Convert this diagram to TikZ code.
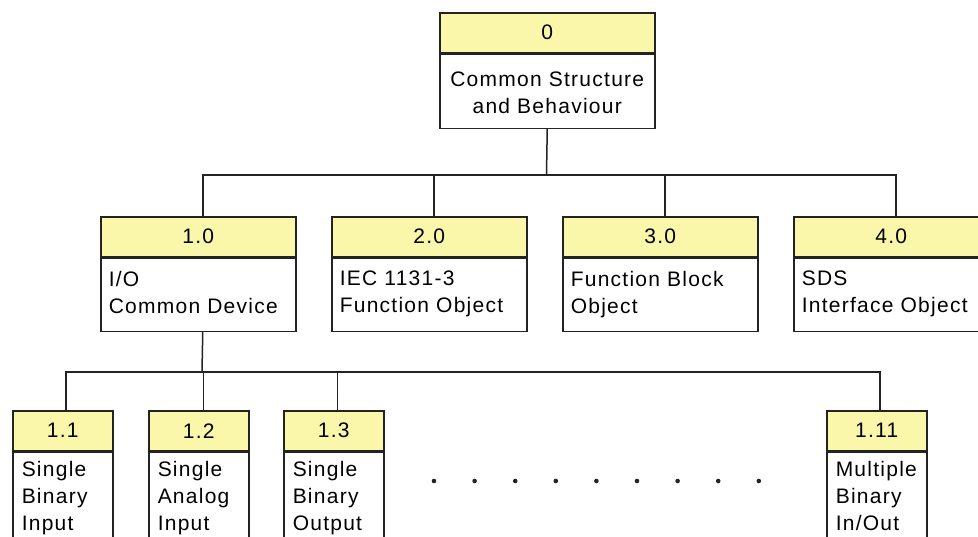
\documentclass[tikz,border=0pt]{standalone}
\usepackage{fontspec}
\setmainfont{Liberation Sans}[LetterSpace=6]
\definecolor{hdrfill}{RGB}{250,246,170}
\definecolor{edge}{RGB}{35,35,35}

\begin{document}
\begin{tikzpicture}[x=1pt, y=-1pt, line width=1.5pt,
  box/.style={draw=edge, fill=white, rectangle, inner sep=0, anchor=north west},
  hdr/.style={box, fill=hdrfill, minimum height=40, font=\fontsize{21}{27}\selectfont},
  txt/.style={anchor=north west, align=left, inner sep=0, font=\fontsize{21}{27}\selectfont},
  wire/.style={draw=edge, line width=1.5pt},
  wideb/.style={minimum width=195},
  narrowb/.style={minimum width=100}]

\useasboundingbox (0,0) rectangle (978,536);
\clip (0,0) rectangle (978,536);

% root
\node[hdr, minimum width=215] (h0) at (439,12) {0};
\node[box, minimum width=215, minimum height=74] (b0) at (h0.south west) {};
\node[txt, align=center, anchor=north] (t0) at ([yshift=-18pt]b0.north) {Common Structure\\and Behaviour};

% first level
\node[hdr, wideb] (h10) at (100,216) {1.0};
\node[box, wideb, minimum height=73] (b10) at (h10.south west) {};
\node[txt] (t10) at ([shift={(8,13)}]b10.north west) {I/O\\Common Device};

\node[hdr, wideb] (h20) at (331,216) {2.0};
\node[box, wideb, minimum height=73] (b20) at (h20.south west) {};
\node[txt] (t20) at ([shift={(8,13)}]b20.north west) {IEC 1131-3\\Function Object};

\node[hdr, wideb] (h30) at (562,216) {3.0};
\node[box, wideb, minimum height=73] (b30) at (h30.south west) {};
\node[txt] (t30) at ([shift={(8,13)}]b30.north west) {Function Block\\Object};

\node[hdr, wideb] (h40) at (793,216) {4.0};
\node[box, wideb, minimum height=73] (b40) at (h40.south west) {};
\node[txt] (t40) at ([shift={(8,13)}]b40.north west) {SDS\\Interface Object};

% second level
\node[hdr, narrowb] (h11) at (12,410) {1.1};
\node[box, narrowb, minimum height=110] (b11) at (h11.south west) {};
\node[txt] (t11) at ([shift={(9,9)}]b11.north west) {Single\\Binary\\Input};

\node[hdr, narrowb] (h12) at (148,410) {1.2};
\node[box, narrowb, minimum height=110] (b12) at (h12.south west) {};
\node[txt] (t12) at ([shift={(9,9)}]b12.north west) {Single\\Analog\\Input};

\node[hdr, narrowb] (h13) at (283,410) {1.3};
\node[box, narrowb, minimum height=110] (b13) at (h13.south west) {};
\node[txt] (t13) at ([shift={(9,9)}]b13.north west) {Single\\Binary\\Output};

\node[hdr, narrowb] (h111) at (826,410) {1.11};
\node[box, narrowb, minimum height=110] (b111) at (h111.south west) {};
\node[txt] (t111) at ([shift={(9,9)}]b111.north west) {Multiple\\Binary\\In/Out};

% connectors
\coordinate (bus1) at (546.5,175);
\draw[wire] (b0.south) -- (bus1);
\foreach \n in {h10,h20,h30,h40}
  \draw[wire] ([xshift=4.5pt]\n.north) |- (bus1);

\coordinate (bus2) at (202,372);
\draw[wire] ([xshift=4.5pt]b10.south) -- (bus2);
\draw[wire] ([xshift=3pt]h11.north) |- (bus2);
\draw[wire] ([xshift=4.5pt]h12.north) |- (bus2);
\draw[wire] ([xshift=3.5pt]h13.north) |- (bus2);
\draw[wire] ([xshift=3pt]h111.north) |- (bus2);

% ellipsis between 1.3 and 1.11
\foreach \i in {0,...,8}
  \fill[edge] (434+40.6*\i,481) circle (2.3);
\end{tikzpicture}
\end{document}
